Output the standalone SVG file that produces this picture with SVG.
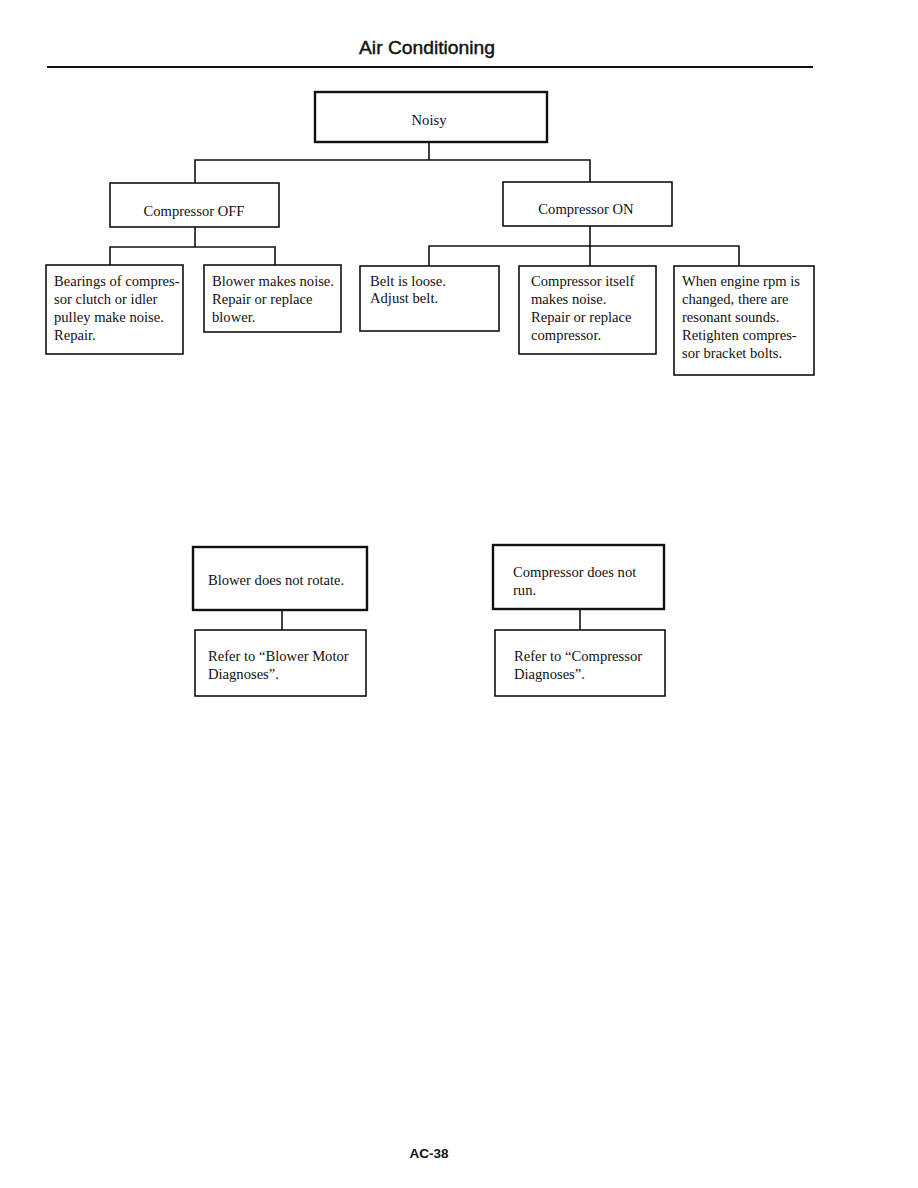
<svg xmlns="http://www.w3.org/2000/svg" width="918" height="1188" viewBox="0 0 918 1188">
<style>
.b{fill:#fff;stroke:#111;stroke-width:1.6}
.bt{fill:#fff;stroke:#111;stroke-width:2.4}
.c{fill:none;stroke:#111;stroke-width:1.6}
.t{font-family:"Liberation Serif","Times New Roman",serif;font-size:14.6px;fill:#111}
.m{text-anchor:middle}
.h{font-family:"Liberation Sans",Arial,sans-serif;fill:#111}
</style>
<rect width="918" height="1188" fill="#fff"/>
<text class="h" x="427" y="54" font-size="18" stroke="#111" stroke-width="0.4" text-anchor="middle" textLength="136" lengthAdjust="spacingAndGlyphs">Air Conditioning</text>
<line x1="47" y1="67" x2="813" y2="67" stroke="#111" stroke-width="2"/>
<g id="connectors">
<path class="c" d="M429 142V160M195 183V160H590V182"/>
<path class="c" d="M195 227V247M110 265V247H275V265"/>
<path class="c" d="M590 226V266M429 266V246H739V266"/>
<path class="c" d="M282 610V630"/>
<path class="c" d="M580 609V630"/>
</g>
<g id="noisy"><rect class="bt" x="315" y="92" width="232" height="50"/><text class="t m" x="429" y="125">Noisy</text></g>
<g id="comp-off"><rect class="b" x="110" y="183" width="169" height="44"/><text class="t m" x="194" y="216">Compressor OFF</text></g>
<g id="comp-on"><rect class="b" x="503" y="182" width="169" height="44"/><text class="t m" x="586" y="214">Compressor ON</text></g>
<g id="bearings"><rect class="b" x="46" y="265" width="137" height="89"/><text class="t" x="54" y="286">Bearings of compres-</text><text class="t" x="54" y="304">sor clutch or idler</text><text class="t" x="54" y="322">pulley make noise.</text><text class="t" x="54" y="340">Repair.</text></g>
<g id="blower-noise"><rect class="b" x="204" y="265" width="137" height="67"/><text class="t" x="212" y="286">Blower makes noise.</text><text class="t" x="212" y="304">Repair or replace</text><text class="t" x="212" y="322">blower.</text></g>
<g id="belt"><rect class="b" x="360" y="266" width="139" height="65"/><text class="t" x="370" y="286">Belt is loose.</text><text class="t" x="370" y="303">Adjust belt.</text></g>
<g id="comp-itself"><rect class="b" x="519" y="266" width="137" height="88"/><text class="t" x="531" y="286">Compressor itself</text><text class="t" x="531" y="304">makes noise.</text><text class="t" x="531" y="322">Repair or replace</text><text class="t" x="531" y="340">compressor.</text></g>
<g id="engine-rpm"><rect class="b" x="674" y="266" width="140" height="109"/><text class="t" x="682" y="286">When engine rpm is</text><text class="t" x="682" y="304">changed, there are</text><text class="t" x="682" y="322">resonant sounds.</text><text class="t" x="682" y="340">Retighten compres-</text><text class="t" x="682" y="358">sor bracket bolts.</text></g>
<g id="blower-rotate"><rect class="bt" x="193" y="547" width="174" height="63"/><text class="t" x="208" y="585">Blower does not rotate.</text></g>
<g id="refer-blower"><rect class="b" x="195" y="630" width="171" height="66"/><text class="t" x="208" y="661">Refer to “Blower Motor</text><text class="t" x="208" y="679">Diagnoses”.</text></g>
<g id="comp-run"><rect class="bt" x="493" y="545" width="171" height="64"/><text class="t" x="513" y="577">Compressor does not</text><text class="t" x="513" y="595">run.</text></g>
<g id="refer-comp"><rect class="b" x="495" y="630" width="170" height="66"/><text class="t" x="514" y="661">Refer to “Compressor</text><text class="t" x="514" y="679">Diagnoses”.</text></g>
<text class="h" x="429" y="1158" font-size="13.5" font-weight="bold" text-anchor="middle">AC-38</text>
</svg>
